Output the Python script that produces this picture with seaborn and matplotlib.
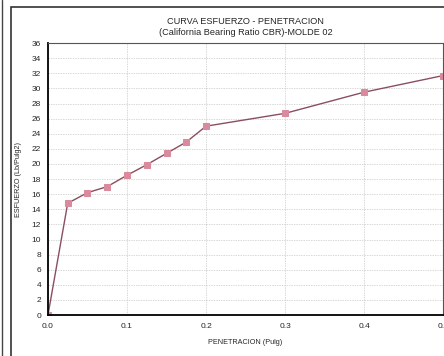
import numpy as np
import matplotlib
matplotlib.use("Agg")
import matplotlib.pyplot as plt
import seaborn as sns
from matplotlib.ticker import MultipleLocator
from matplotlib.patches import Rectangle
from matplotlib.lines import Line2D

# datos del ensayo CBR - molde 02
penetracion = [0.0, 0.025, 0.05, 0.075, 0.1, 0.125, 0.15, 0.175, 0.2, 0.3, 0.4, 0.5]
esfuerzo = [0.0, 14.8, 16.2, 17.0, 18.5, 19.9, 21.4, 22.9, 25.0, 26.7, 29.5, 31.7]
x_ticks = [0.0, 0.1, 0.2, 0.3, 0.4, 0.5]
y_ticks = list(range(0, 38, 2))

sns.set_style("white")
plt.rcParams['font.family'] = ['Liberation Sans Narrow', 'Liberation Sans', 'DejaVu Sans']

fig = plt.figure(figsize=(4.44, 3.56), dpi=100)
ax = fig.add_axes([0.108, 0.115, 0.89, 0.764])

sns.lineplot(x=penetracion, y=esfuerzo, ax=ax, color='#8a4e60', linewidth=1.0,
             marker='s', markersize=4.5, markerfacecolor='#d98a9c',
             markeredgecolor='#d98a9c')

ax.set_xlim(0, 0.5)
ax.set_ylim(0, 36)
ax.set_xticks(x_ticks)
ax.set_xticklabels([f"{v:.1f}" for v in x_ticks])
ax.set_yticks(y_ticks)
ax.xaxis.set_minor_locator(MultipleLocator(0.02))
ax.tick_params(axis='both', labelsize=6, length=2, width=0.6)
ax.tick_params(axis='x', pad=4)
ax.tick_params(axis='y', pad=3)
ax.tick_params(axis='x', which='minor', length=1.5, width=0.4)

ax.grid(True, color='#c8c8c8', linestyle=(0, (2, 1.5)), linewidth=0.5)
for side in ['left', 'bottom']:
    ax.spines[side].set_color('black')
    ax.spines[side].set_linewidth(1.3)
for side in ['top', 'right']:
    ax.spines[side].set_color('#555555')
    ax.spines[side].set_linewidth(0.8)

ax.set_title("CURVA ESFUERZO - PENETRACION\n(California Bearing Ratio CBR)-MOLDE 02",
             fontsize=6.6, pad=6, linespacing=1.25)
ax.set_xlabel("PENETRACION (Pulg)", fontsize=5.2, labelpad=6)
ax.set_ylabel("ESFUERZO (Lb/Pulg2)", fontsize=5.2, labelpad=7)

# marcos exteriores del formato
fig.add_artist(Rectangle((11 / 444, -0.05), 1.0, 1 - 7 / 356 + 0.05,
                         transform=fig.transFigure, fill=False,
                         edgecolor='#333333', linewidth=1.2))
fig.add_artist(Line2D([2 / 444, 2 / 444], [0, 1], transform=fig.transFigure,
                      color='#444444', linewidth=1.0))

fig.savefig("out.png", dpi=100)
